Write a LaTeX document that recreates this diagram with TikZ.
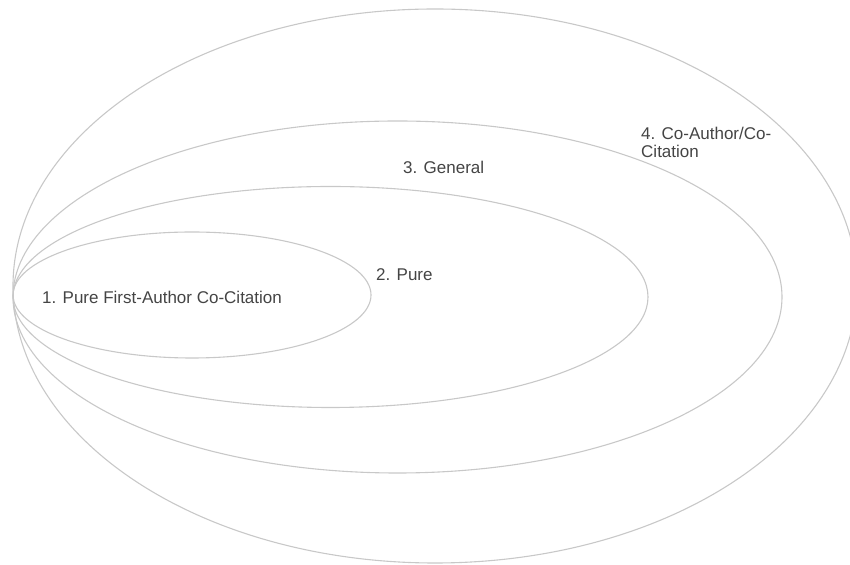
\documentclass[tikz,border=0pt]{standalone}
\usepackage{fontspec}
\setmainfont{Liberation Sans}
\usepackage{xcolor}
\usepackage{tikz}
\definecolor{ringgray}{HTML}{C8C8C8}
\definecolor{labelgray}{HTML}{444444}

\begin{document}
\begin{tikzpicture}[
  x=1pt, y=1pt,
  ring/.style={draw=ringgray, line width=1.1pt},
  lbl/.style={font=\fontsize{17}{18}\selectfont, text=labelgray,
              inner sep=0pt, anchor=west, align=left}
]
\useasboundingbox (0,0) rectangle (850,564);

% nested sets, all touching at the left
\draw[ring] (435,278)   ellipse [x radius=422,   y radius=277];
\draw[ring] (397.5,267) ellipse [x radius=384.5, y radius=176];
\draw[ring] (330.5,267) ellipse [x radius=317.5, y radius=110.5];
\draw[ring] (192,269)   ellipse [x radius=179,   y radius=63];

\node[lbl] (pureFirst) at (42,267)  {1. Pure First-Author Co-Citation};
\node[lbl] (pure)      at (376,289) {2. Pure};
\node[lbl] (general)   at (403,397) {3. General};
\node[lbl] (coAuthor)  at (641,422) {4. Co-Author/Co-\\Citation};
\end{tikzpicture}
\end{document}
